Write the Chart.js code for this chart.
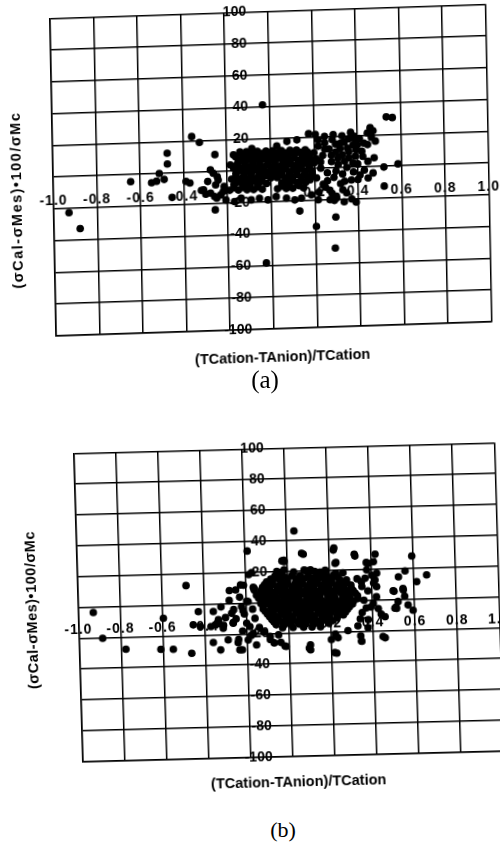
<!DOCTYPE html>
<html>
<head>
<meta charset="utf-8">
<script src="https://cdn.jsdelivr.net/npm/chart.js@4.4.0/dist/chart.umd.min.js"></script>
<style>
  html, body { margin: 0; padding: 0; background: #fff; }
  body { width: 500px; height: 848px; position: relative; overflow: hidden; }
  canvas { position: absolute; left: 0; }
  /* the printed panels sit slightly askew on the page */
  #chartA { top: 0; transform-origin: 50px 18.3px; transform: matrix(1, -0.0326, 0.0195, 1, 0, 0); }
  #chartB { top: 420px; transform-origin: 73.3px 33.3px; transform: matrix(1, -0.0252, 0.0292, 1, 0, 0); }
  .caption { position: absolute; font-family: "Liberation Serif", "DejaVu Serif", serif; color: #000; transform: translate(-50%, -50%); }
</style>
</head>
<body>
<canvas id="chartA" width="500" height="380"></canvas>
<canvas id="chartB" width="500" height="380"></canvas>
<div class="caption" style="left:265px; top:380px; font-size:25px;">(a)</div>
<div class="caption" style="left:283px; top:830px; font-size:22px;">(b)</div>

<script>
// Axis values and titles
const xTicks = [-1.0, -0.8, -0.6, -0.4, 0.2, 0.4, 0.6, 0.8, 1.0];
const yTicks = [100, 80, 60, 40, 20, -20, -40, -60, -80, -100];
const xTitle = '(TCation-TAnion)/TCation';
const yTitle = '(σCal-σMes)•100/σMc';

// Panel (a): [x, y] pairs
const pointsA = [
  // scattered points
  [-0.93, -22.8], [-0.88, -33], [-0.644, -4.5], [-0.548, -5.6], [-0.525, -4.8], [-0.512, 0],
  [-0.49, -3.8], [-0.474, 12.6], [-0.474, 5.9], [-0.455, -15.3], [-0.39, -5.5], [-0.372, -6.6],
  [-0.36, 22.6], [-0.325, 18.8], [-0.32, -11.5], [-0.30, -14], [-0.255, 10.8], [-0.258, -24],
  [-0.17, 10.3], [-0.085, 13.8], [-0.032, 41.1], [-0.028, -58.5], [0.03, 15], [0.13, -26.5],
  [0.205, -36.5], [0.295, -31], [0.29, -50.5], [0.29, -20.5], [0.335, -21.5], [0.39, -22],
  [0.385, 19.5], [0.39, 17.5], [0.46, 24.5], [0.473, 22.5], [0.465, 18.5], [0.483, 16],
  [0.535, 31], [0.563, 30.5], [0.476, 5.5], [0.52, -0.5], [0.585, 1.2], [0.47, -4],
  [0.52, -12.5], [0.30, -18],
  // left edge of the cloud
  [-0.264, -0.9], [-0.242, -5.3], [-0.278, -13.4], [-0.25, -16.7], [-0.22, -12.7], [-0.277, 1.3],
  [-0.246, -3.1], [-0.254, -8.3], [-0.29, -6], [-0.185, 4], [-0.215, -9.5], [-0.31, -11.2],
  [-0.26, -15.6],
  // lower edge
  [-0.231, -14.7], [-0.208, -18], [-0.169, -19.2], [-0.138, -17.2], [-0.092, -18.5], [-0.054, -17.6],
  [-0.015, -18.8], [0.023, -16.9], [0.07, -18.1], [0.108, -19.4], [0.139, -18.4], [0.185, -16.5],
  [0.216, -19.8], [0.27, -20], [0.3, -19], [0.347, -16], [0.37, -20],
  // upper and right edge
  [0.077, 17.6], [0.123, 18.4], [0.177, 22], [0.208, 21.4], [0.285, 17.8], [0.323, 15.5],
  [0.354, 12.2], [0.393, 11], [0.447, 21.3], [0.447, 14], [0.424, 6.6], [0.447, 3.4],
  [0.378, 2.6], [0.339, -8.7], [0.4, -7.8], [0.447, -7.1],
  [0.22, 14], [0.25, 16], [0.27, 12], [0.30, 10], [0.33, 8], [0.36, 6], [0.24, 8], [0.21, 6],
  [0.28, 4], [0.31, 2], [0.35, 0], [0.38, -3], [0.23, 0], [0.26, -3], [0.29, -6], [0.32, -10],
  [0.24, -10], [0.21, -6], [0.27, -14], [0.22, 18], [0.30, 15], [0.34, 16], [0.40, 14],
  [0.42, 10], [0.40, 2], [0.43, -2],
  [0.2, 10], [0.23, 4], [0.25, 12], [0.26, -8], [0.28, 8], [0.3, -2], [0.31, 6], [0.32, 12],
  [0.33, -4], [0.34, 4], [0.36, 10], [0.37, -8], [0.38, 14], [0.39, 7], [0.41, -5], [0.25, -12],
  [0.28, -16], [0.22, -15], [0.33, -14], [0.36, 18], [0.25, 20], [0.29, 21], [0.33, 20],
  [0.37, 22], [0.41, 18], [0.43, 15],
  // dense core
  [-0.14, 12], [-0.11, 12], [-0.06, 12], [-0.02, 12], [0.01, 12], [0.05, 12], [0.09, 12], [0.12, 12], [0.16, 12],
  [-0.13, 10.5], [-0.1, 10.5], [-0.07, 10.5], [-0.04, 10.5], [0.0, 10.5], [0.035, 10.5], [0.065, 10.5], [0.1, 10.5], [0.135, 10.5], [0.17, 10.5],
  [-0.16, 9], [-0.12, 9], [-0.09, 9], [-0.05, 9], [-0.02, 9], [0.02, 9], [0.05, 9], [0.08, 9], [0.11, 9], [0.15, 9], [0.18, 9],
  [-0.14, 7], [-0.105, 7], [-0.07, 7], [-0.035, 7], [0.005, 7], [0.035, 7], [0.075, 7], [0.11, 7], [0.145, 7], [0.175, 7],
  [-0.15, 5.5], [-0.12, 5.5], [-0.08, 5.5], [-0.05, 5.5], [-0.01, 5.5], [0.02, 5.5], [0.06, 5.5], [0.09, 5.5], [0.13, 5.5], [0.16, 5.5], [0.19, 5.5],
  [-0.155, 3.5], [-0.115, 3.5], [-0.085, 3.5], [-0.05, 3.5], [-0.015, 3.5], [0.02, 3.5], [0.055, 3.5], [0.09, 3.5], [0.125, 3.5], [0.16, 3.5], [0.2, 3.5],
  [-0.17, 2], [-0.13, 2], [-0.1, 2], [-0.07, 2], [-0.03, 2], [0.0, 2], [0.04, 2], [0.07, 2], [0.11, 2], [0.14, 2], [0.18, 2],
  [-0.145, 0], [-0.11, 0], [-0.075, 0], [-0.04, 0], [0.005, 0], [0.035, 0], [0.07, 0], [0.105, 0], [0.14, 0], [0.175, 0],
  [-0.16, -1.5], [-0.12, -1.5], [-0.09, -1.5], [-0.05, -1.5], [-0.02, -1.5], [0.02, -1.5], [0.05, -1.5], [0.09, -1.5], [0.12, -1.5], [0.16, -1.5], [0.19, -1.5],
  [-0.16, -3.5], [-0.125, -3.5], [-0.09, -3.5], [-0.055, -3.5], [-0.02, -3.5], [0.015, -3.5], [0.05, -3.5], [0.085, -3.5], [0.12, -3.5], [0.155, -3.5], [0.19, -3.5],
  [-0.18, -5], [-0.14, -5], [-0.11, -5], [-0.07, -5], [-0.04, -5], [0.0, -5], [0.03, -5], [0.07, -5], [0.1, -5], [0.14, -5], [0.17, -5],
  [-0.155, -7], [-0.12, -7], [-0.085, -7], [-0.045, -7], [0.065, -7], [0.1, -7], [0.14, -7], [0.18, -7],
  [-0.17, -8.5], [-0.13, -8.5], [-0.1, -8.5], [-0.06, -8.5], [-0.02, -8.5], [0.05, -8.5], [0.08, -8.5], [0.12, -8.5], [0.16, -8.5],
  [-0.17, -10.5], [-0.13, -10.5], [-0.095, -10.5], [-0.06, -10.5], [0.05, -10.5], [0.085, -10.5], [0.13, -10.5],
  [-0.19, -12], [-0.15, -12], [-0.11, -12], [-0.08, -12], [-0.04, -12], [0.03, -12], [0.07, -12], [0.1, -12], [0.15, -12]
];

// Panel (b): [x, y] pairs
const pointsB = [
  // scattered points
  [-0.927, -3.6], [-0.886, -20.4], [-0.777, -27.9], [-0.595, -8.4], [-0.611, -28.5], [-0.552, -28.7],
  [-0.483, 12.4], [-0.465, -31.6], [-0.454, -13.2], [-0.428, -4.7], [-0.42, -14.5], [-0.357, -4.9],
  [-0.334, -10.3], [-0.37, -14.6], [-0.361, -25], [-0.327, -29.9], [-0.29, -23.5], [-0.236, -30.2],
  [-0.243, -25.4], [-0.278, 8.4], [-0.224, 11.9], [-0.188, 33.8], [-0.17, 19.7], [-0.164, 10.2],
  [-0.051, 18.9], [-0.014, 26.3], [0.037, 46], [0.078, 30.8], [0.11, 20.5], [0.221, 33],
  [0.228, 24.4], [0.323, 28.8], [0.419, 29.6], [0.386, 23.8], [0.424, 17.3], [0.593, 27.9],
  [0.559, 18.3], [0.527, 14.6], [0.613, 11.2], [0.661, 15.4], [0.5, 5.7], [0.547, 7],
  [0.554, 1.9], [0.522, -1.4], [0.514, -5.8], [0.569, -3.8], [0.592, -7.3], [0.446, -23.9],
  [0.343, -26.4], [0.215, -33.5], [0.094, -30.2], [-0.021, -28.4], [-0.156, -27.2],
  [-0.35, -13.6], [-0.312, -15.9], [-0.27, -6.3], [-0.264, -12.8], [-0.222, -2.1], [-0.197, 1.2],
  [-0.185, -15.2], [-0.17, -19.6], [-0.195, -23.9],
  [-0.015, 27.2], [0.07, 31.5], [0.224, 34.3], [0.32, 30], [-0.21, 11.7], [-0.16, 8.5],
  [-0.05, 20], [-0.015, 21], [0.09, 20], [0.155, 19], [0.38, 24], [0.23, 18], [-0.33, -13],
  [-0.09, -24], [-0.04, -26], [0.1, -28], [0.22, -21.5], [0.34, -23],
  [-0.184, 18.5], [-0.248, 8.8], [-0.16, 9.6], [-0.104, 3.8], [-0.216, -4.7], [-0.264, -12.3],
  [-0.24, -23.4], [-0.224, -30.2], [-0.072, -26.2], [-0.016, -28.7], [0.1, -31.3], [0.2, -25],
  [0.232, -23.9], [0.224, -33.9], [0.344, -26.6], [0.456, -24.7], [-0.024, 26.8], [0.232, 24.9],
  [0.264, 18.1], [0.376, 24.4], [0.408, 11], [0.352, 8.9], [0.504, 5.3], [0.392, -4.5],
  [0.44, -9.2], [0.512, -4.9], [0.328, -16.5], [0.376, -17.8], [0.28, -19.5],
  [0.41, 24.8], [0.377, 19.6], [0.368, 14.2], [0.415, 13], [0.422, 8.6], [0.548, 6],
  [0.506, -5.7], [0.404, -2.1], [0.427, -5.7], [0.458, -11], [0.378, -12.7],
  // left arm of the cloud
  [-0.32, -2], [-0.3, -9], [-0.28, 2], [-0.26, -4], [-0.25, -10], [-0.23, 4], [-0.21, -7],
  [-0.2, -13], [-0.19, 1], [-0.17, -4], [-0.16, -10], [-0.15, 5], [-0.14, -16], [-0.31, -14],
  [-0.22, -18], [-0.18, -21], [-0.12, -19], [-0.09, -22], [-0.05, -21],
  // right side of the cloud
  [0.35, 12], [0.38, 6], [0.36, 0], [0.35, -8], [0.4, 16], [0.37, -5], [0.33, 14], [0.34, -12], [0.42, 2],
  // top fringe of the core
  [-0.03, 19.5], [0.03, 19.5], [0.08, 20.5], [0.13, 19.5], [0.18, 20],
  // dense core
  [-0.06, 17], [-0.02, 17], [0.02, 17], [0.06, 17], [0.1, 17], [0.14, 17], [0.18, 17], [0.22, 17],
  [-0.08, 15.2], [-0.04, 15.2], [0.0, 15.2], [0.04, 15.2], [0.08, 15.2], [0.12, 15.2], [0.16, 15.2], [0.2, 15.2], [0.24, 15.2],
  [-0.1, 13.5], [-0.07, 13.5], [-0.03, 13.5], [0.0, 13.5], [0.04, 13.5], [0.07, 13.5], [0.11, 13.5], [0.14, 13.5], [0.18, 13.5], [0.21, 13.5], [0.25, 13.5], [0.28, 13.5],
  [-0.11, 11.7], [-0.07, 11.7], [-0.035, 11.7], [0.0, 11.7], [0.035, 11.7], [0.07, 11.7], [0.105, 11.7], [0.14, 11.7], [0.175, 11.7], [0.21, 11.7], [0.245, 11.7], [0.28, 11.7],
  [-0.12, 10], [-0.09, 10], [-0.05, 10], [-0.02, 10], [0.02, 10], [0.05, 10], [0.09, 10], [0.12, 10], [0.16, 10], [0.19, 10], [0.23, 10], [0.26, 10], [0.3, 10],
  [-0.125, 8.2], [-0.085, 8.2], [-0.05, 8.2], [-0.015, 8.2], [0.02, 8.2], [0.055, 8.2], [0.09, 8.2], [0.125, 8.2], [0.16, 8.2], [0.195, 8.2], [0.23, 8.2], [0.265, 8.2], [0.3, 8.2],
  [-0.13, 6.5], [-0.1, 6.5], [-0.07, 6.5], [-0.03, 6.5], [0.0, 6.5], [0.04, 6.5], [0.07, 6.5], [0.1, 6.5], [0.14, 6.5], [0.17, 6.5], [0.21, 6.5], [0.24, 6.5], [0.28, 6.5], [0.31, 6.5],
  [-0.13, 4.7], [-0.095, 4.7], [-0.06, 4.7], [-0.025, 4.7], [0.01, 4.7], [0.045, 4.7], [0.08, 4.7], [0.115, 4.7], [0.15, 4.7], [0.185, 4.7], [0.22, 4.7], [0.255, 4.7], [0.29, 4.7], [0.32, 4.7],
  [-0.14, 3], [-0.11, 3], [-0.08, 3], [-0.05, 3], [-0.01, 3], [0.02, 3], [0.05, 3], [0.09, 3], [0.12, 3], [0.15, 3], [0.19, 3], [0.22, 3], [0.26, 3], [0.29, 3], [0.33, 3],
  [-0.13, 1.2], [-0.09, 1.2], [-0.055, 1.2], [-0.02, 1.2], [0.015, 1.2], [0.05, 1.2], [0.085, 1.2], [0.12, 1.2], [0.155, 1.2], [0.19, 1.2], [0.225, 1.2], [0.26, 1.2], [0.295, 1.2], [0.33, 1.2],
  [-0.13, -0.5], [-0.1, -0.5], [-0.06, -0.5], [-0.03, -0.5], [0.0, -0.5], [0.04, -0.5], [0.07, -0.5], [0.11, -0.5], [0.14, -0.5], [0.17, -0.5], [0.21, -0.5], [0.24, -0.5], [0.28, -0.5], [0.31, -0.5],
  [-0.12, -2.2], [-0.085, -2.2], [-0.05, -2.2], [-0.01, -2.2], [0.025, -2.2], [0.06, -2.2], [0.095, -2.2], [0.13, -2.2], [0.165, -2.2], [0.2, -2.2], [0.235, -2.2], [0.27, -2.2], [0.305, -2.2],
  [-0.12, -4], [-0.08, -4], [-0.05, -4], [-0.02, -4], [0.02, -4], [0.05, -4], [0.09, -4], [0.12, -4], [0.15, -4], [0.19, -4], [0.22, -4], [0.26, -4], [0.29, -4],
  [-0.11, -5.7], [-0.07, -5.7], [-0.035, -5.7], [0.0, -5.7], [0.035, -5.7], [0.07, -5.7], [0.105, -5.7], [0.14, -5.7], [0.175, -5.7], [0.21, -5.7], [0.245, -5.7], [0.28, -5.7],
  [-0.1, -7.5], [-0.07, -7.5], [-0.03, -7.5], [0.0, -7.5], [0.04, -7.5], [0.07, -7.5], [0.1, -7.5], [0.14, -7.5], [0.17, -7.5], [0.2, -7.5], [0.24, -7.5], [0.27, -7.5],
  [-0.09, -9.2], [-0.05, -9.2], [-0.015, -9.2], [0.02, -9.2], [0.055, -9.2], [0.09, -9.2], [0.125, -9.2], [0.16, -9.2], [0.195, -9.2], [0.23, -9.2], [0.26, -9.2],
  [-0.08, -11], [-0.05, -11], [-0.01, -11], [0.02, -11], [0.06, -11], [0.09, -11], [0.12, -11], [0.16, -11], [0.19, -11], [0.23, -11],
  [-0.07, -12.7], [-0.03, -12.7], [0.005, -12.7], [0.04, -12.7], [0.075, -12.7], [0.11, -12.7], [0.145, -12.7], [0.18, -12.7], [0.21, -12.7],
  [-0.06, -14.5], [-0.02, -14.5], [0.01, -14.5], [0.05, -14.5], [0.08, -14.5], [0.12, -14.5], [0.15, -14.5], [0.19, -14.5],
  [-0.03, -16.5], [0.02, -16.5], [0.07, -16.5], [0.11, -16.5], [0.15, -16.5]
];

const labelFont = 'bold 14px "Liberation Sans", Arial, sans-serif';
const titleFont = 'bold 14.5px "Liberation Sans", Arial, sans-serif';

// Tick values are printed inside the plot: y values against the x = -0.2 line,
// x values resting on the y = -20 line. Titles go outside the frame.
const axisText = {
  id: 'axisText',
  beforeDatasetsDraw(chart) {
    const { ctx, scales: { x, y } } = chart;
    ctx.save();
    ctx.fillStyle = '#000';
    ctx.font = labelFont;
    const yLine = x.getPixelForValue(-0.2);
    ctx.textAlign = 'right';
    ctx.textBaseline = 'middle';
    yTicks.forEach(v => ctx.fillText(String(v), yLine + 22, y.getPixelForValue(v)));
    const xLine = y.getPixelForValue(-20);
    ctx.textAlign = 'center';
    ctx.textBaseline = 'bottom';
    if ('letterSpacing' in ctx) ctx.letterSpacing = '1px';
    xTicks.forEach(v => ctx.fillText(v.toFixed(1), x.getPixelForValue(v), xLine - 1));
    ctx.restore();
  },
  afterDraw(chart, args, opts) {
    const ctx = chart.ctx;
    ctx.save();
    ctx.fillStyle = '#000';
    ctx.font = titleFont;
    ctx.textAlign = 'center';
    ctx.textBaseline = 'middle';
    ctx.fillText(xTitle, opts.xTitleAt[0], opts.xTitleAt[1]);
    ctx.translate(opts.yTitleAt[0], opts.yTitleAt[1]);
    ctx.rotate(-Math.PI / 2);
    if ('letterSpacing' in ctx) ctx.letterSpacing = opts.ySpacing;
    ctx.fillText(yTitle, 0, 0);
    ctx.restore();
  }
};

function makeScatter(id, points, padding, titles) {
  const gridStyle = { color: '#000', lineWidth: 1.5, drawTicks: false };
  return new Chart(document.getElementById(id), {
    type: 'scatter',
    data: {
      datasets: [{
        data: points.map(p => ({ x: p[0], y: p[1] })),
        backgroundColor: '#000',
        borderWidth: 0,
        pointRadius: 3.8,
        pointHoverRadius: 3.8
      }]
    },
    options: {
      responsive: false,
      animation: false,
      devicePixelRatio: 1,
      layout: { padding },
      plugins: {
        legend: { display: false },
        tooltip: { enabled: false },
        axisText: titles
      },
      scales: {
        x: {
          type: 'linear', min: -1, max: 1,
          ticks: { display: false, stepSize: 0.2 },
          grid: gridStyle,
          border: { color: '#000', width: 1.5 }
        },
        y: {
          type: 'linear', min: -100, max: 100,
          ticks: { display: false, stepSize: 20 },
          grid: gridStyle,
          border: { color: '#000', width: 1.5 }
        }
      }
    },
    plugins: [axisText]
  });
}

makeScatter('chartA', pointsA,
  { left: 50, top: 18.3, right: 14.5, bottom: 44.2 },
  { xTitleAt: [276, 365], yTitleAt: [14, 199], ySpacing: '1.5px' });

makeScatter('chartB', pointsB,
  { left: 73.3, top: 33.3, right: 5.7, bottom: 38.3 },
  { xTitleAt: [289, 368], yTitleAt: [28, 189], ySpacing: '0.5px' });
</script>
</body>
</html>
